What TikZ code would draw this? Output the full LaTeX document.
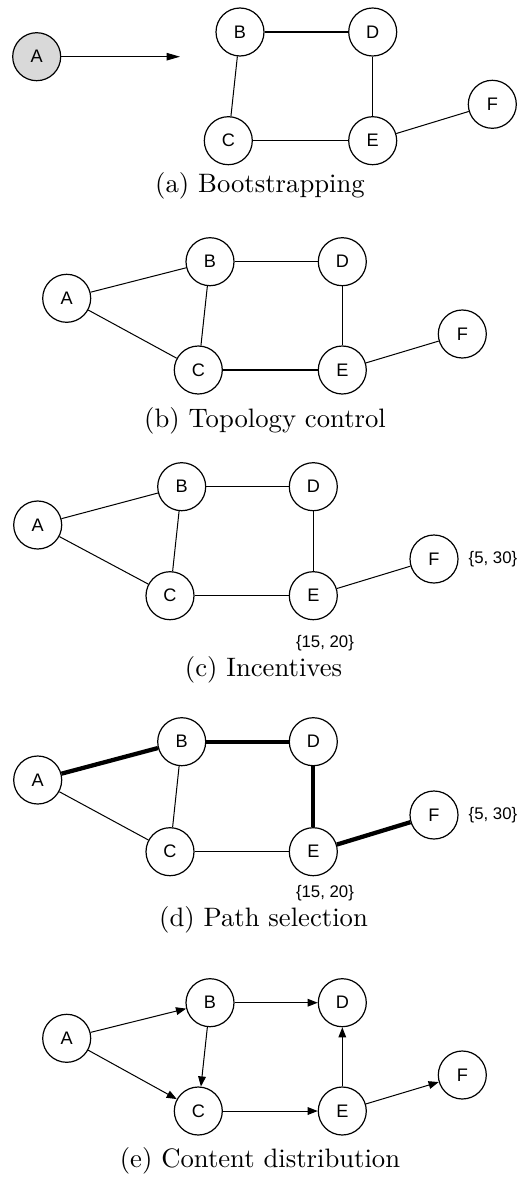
\documentclass[tikz,border=0pt]{standalone}
\usepackage{fontspec}
\newfontfamily\nodefont{Liberation Sans}
\usetikzlibrary{arrows.meta}
\tikzset{
  vertex/.style={circle, draw=black, line width=0.45pt, minimum size=18pt,
    inner sep=0pt, font=\nodefont\fontsize{6.8}{8}\selectfont},
  seed/.style={vertex, fill=black!15},
  link/.style={draw=black, line width=0.38pt},
  chosen/.style={draw=black, line width=1.6pt},
  flow/.style={link, -{Triangle[length=3.8pt,width=2.9pt]}},
  joinarrow/.style={link, -{Triangle[length=5pt,width=2.8pt]}},
  price/.style={font=\nodefont\fontsize{6.3}{7.5}\selectfont, inner sep=0pt},
  caption/.style={inner sep=0pt},
}
\begin{document}
\begin{tikzpicture}[x=0.375pt, y=-0.375pt]
\useasboundingbox (0,0) rectangle (516,1178);

% (a) Bootstrapping
\node[seed]   (aA) at (36.7,56.7) {A};
\node[vertex] (aB) at (240,32) {B};
\node[vertex] (aD) at (372.7,32) {D};
\node[vertex] (aC) at (228.3,140.7) {C};
\node[vertex] (aE) at (372.7,140.7) {E};
\node[vertex] (aF) at (492.3,104.3) {F};
\coordinate (aJoin) at (180,56.7);
\draw[joinarrow] (aA) -- (aJoin);
\draw[link] (aB) -- (aD);
\draw[link] (aB) -- (aC);
\draw[link] (aC) -- (aE);
\draw[link] (aD) -- (aE);
\draw[link] (aE) -- (aF);
\node[caption] (capA) at (260,185.5) {(a) Bootstrapping};

% (b) Topology control
\node[vertex] (bA) at (66.7,298.3) {A};
\node[vertex] (bB) at (210,261.7) {B};
\node[vertex] (bD) at (342.3,261.7) {D};
\node[vertex] (bC) at (198.3,370) {C};
\node[vertex] (bE) at (342.3,370) {E};
\node[vertex] (bF) at (462.3,334) {F};
\draw[link] (bA) -- (bB);
\draw[link] (bA) -- (bC);
\draw[link] (bB) -- (bD);
\draw[link] (bB) -- (bC);
\draw[link] (bC) -- (bE);
\draw[link] (bD) -- (bE);
\draw[link] (bE) -- (bF);
\node[caption] (capB) at (265,420.8) {(b) Topology control};

% (c) Incentives
\node[vertex] (cA) at (37.7,525) {A};
\node[vertex] (cB) at (181.7,486.7) {B};
\node[vertex] (cD) at (313.3,486.7) {D};
\node[vertex] (cC) at (170,595.7) {C};
\node[vertex] (cE) at (313.3,595.7) {E};
\node[vertex] (cF) at (434,559) {F};
\draw[link] (cA) -- (cB);
\draw[link] (cA) -- (cC);
\draw[link] (cB) -- (cD);
\draw[link] (cB) -- (cC);
\draw[link] (cC) -- (cE);
\draw[link] (cD) -- (cE);
\draw[link] (cE) -- (cF);
\node[price] (cPF) at (493,559) {\{5, 30\}};
\node[price] (cPE) at (325,643) {\{15, 20\}};
\node[caption] (capC) at (263.5,670) {(c) Incentives};

% (d) Path selection
\node[vertex] (dA) at (37.7,780) {A};
\node[vertex] (dB) at (181.7,741.7) {B};
\node[vertex] (dD) at (313.3,741.7) {D};
\node[vertex] (dC) at (170,851.7) {C};
\node[vertex] (dE) at (313.3,851.7) {E};
\node[vertex] (dF) at (434,815) {F};
\draw[link] (dA) -- (dC);
\draw[link] (dB) -- (dC);
\draw[link] (dC) -- (dE);
\draw[chosen] (dA) -- (dB);
\draw[chosen] (dB) -- (dD);
\draw[chosen] (dD) -- (dE);
\draw[chosen] (dE) -- (dF);
\node[price] (dPF) at (493,815) {\{5, 30\}};
\node[price] (dPE) at (325,893) {\{15, 20\}};
\node[caption] (capD) at (263.5,920) {(d) Path selection};

% (e) Content distribution
\node[vertex] (eA) at (66.7,1038.3) {A};
\node[vertex] (eB) at (210,1002.7) {B};
\node[vertex] (eD) at (342.3,1002.7) {D};
\node[vertex] (eC) at (198.3,1111) {C};
\node[vertex] (eE) at (342.3,1111) {E};
\node[vertex] (eF) at (462.3,1075) {F};
\draw[flow] (eA) -- (eB);
\draw[flow] (eA) -- (eC);
\draw[flow] (eB) -- (eD);
\draw[flow] (eB) -- (eC);
\draw[flow] (eC) -- (eE);
\draw[flow] (eE) -- (eD);
\draw[flow] (eE) -- (eF);
\node[caption] (capE) at (260,1161) {(e) Content distribution};
\end{tikzpicture}
\end{document}
